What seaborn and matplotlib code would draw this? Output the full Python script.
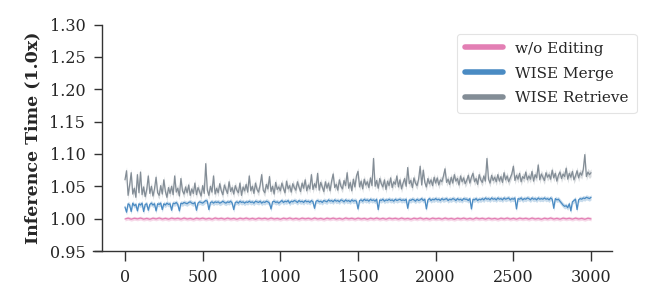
import numpy as np
import pandas as pd
import matplotlib
matplotlib.use("Agg")
import matplotlib.pyplot as plt
import seaborn as sns

# ------------------------------------------
# data
# ------------------------------------------
steps = list(range(0, 3001, 10))          # WISE curves, one value every 10 edits
steps_base = list(range(0, 3001, 20))     # w/o editing, one value every 20 edits

wise_retrieve = [
    1.060, 1.074, 1.036, 1.052, 1.071, 1.038, 1.047, 1.033, 1.068, 1.040,
    1.072, 1.037, 1.049, 1.034, 1.045, 1.066, 1.039, 1.050, 1.035, 1.046,
    1.064, 1.040, 1.036, 1.051, 1.038, 1.060, 1.042, 1.033, 1.048, 1.039,
    1.050, 1.037, 1.066, 1.041, 1.047, 1.035, 1.062, 1.043, 1.038, 1.049,
    1.040, 1.052, 1.036, 1.046, 1.039, 1.055, 1.037, 1.048, 1.042, 1.035,
    1.051, 1.039, 1.085, 1.044, 1.036, 1.050, 1.041, 1.066, 1.038, 1.047,
    1.040, 1.054, 1.043, 1.037, 1.052, 1.045, 1.039, 1.057, 1.042, 1.048,
    1.038, 1.051, 1.044, 1.040, 1.055, 1.036, 1.049, 1.043, 1.053, 1.041,
    1.066, 1.043, 1.050, 1.039, 1.055, 1.045, 1.041, 1.052, 1.068, 1.044,
    1.040, 1.053, 1.046, 1.065, 1.042, 1.050, 1.038, 1.056, 1.045, 1.049,
    1.043, 1.055, 1.047, 1.040, 1.058, 1.046, 1.051, 1.041, 1.054, 1.048,
    1.044, 1.057, 1.049, 1.042, 1.055, 1.047, 1.060, 1.043, 1.052, 1.046,
    1.068, 1.045, 1.054, 1.048, 1.070, 1.044, 1.056, 1.049, 1.042, 1.057,
    1.047, 1.055, 1.043, 1.058, 1.069, 1.048, 1.053, 1.044, 1.060, 1.050,
    1.046, 1.059, 1.051, 1.071, 1.047, 1.056, 1.043, 1.061, 1.049, 1.066,
    1.073, 1.049, 1.058, 1.046, 1.061, 1.052, 1.057, 1.048, 1.063, 1.051,
    1.093, 1.050, 1.059, 1.047, 1.062, 1.054, 1.049, 1.060, 1.045, 1.058,
    1.051, 1.063, 1.048, 1.057, 1.053, 1.066, 1.049, 1.060, 1.046, 1.055,
    1.062, 1.050, 1.079, 1.054, 1.059, 1.048, 1.063, 1.055, 1.051, 1.061,
    1.081, 1.052, 1.075, 1.056, 1.049, 1.062, 1.054, 1.060, 1.051, 1.064,
    1.055, 1.063, 1.052, 1.060, 1.057, 1.066, 1.077, 1.056, 1.061, 1.053,
    1.064, 1.055, 1.068, 1.058, 1.062, 1.052, 1.066, 1.057, 1.063, 1.054,
    1.059, 1.067, 1.055, 1.064, 1.070, 1.057, 1.062, 1.053, 1.068, 1.060,
    1.056, 1.066, 1.058, 1.093, 1.061, 1.055, 1.067, 1.059, 1.064, 1.057,
    1.068, 1.058, 1.065, 1.056, 1.071, 1.060, 1.066, 1.057, 1.063, 1.069,
    1.081, 1.059, 1.067, 1.061, 1.070, 1.057, 1.065, 1.062, 1.072, 1.060,
    1.066, 1.061, 1.073, 1.058, 1.068, 1.063, 1.083, 1.060, 1.069, 1.064,
    1.059, 1.071, 1.064, 1.068, 1.061, 1.075, 1.063, 1.070, 1.058, 1.067,
    1.072, 1.062, 1.069, 1.065, 1.078, 1.061, 1.070, 1.064, 1.073, 1.060,
    1.066, 1.074, 1.063, 1.071, 1.067, 1.076, 1.099, 1.065, 1.072, 1.068,
    1.071,
]

wise_merge = [
    1.018, 1.010, 1.023, 1.021, 1.011, 1.024, 1.020, 1.022, 1.012, 1.023,
    1.021, 1.024, 1.011, 1.022, 1.023, 1.013, 1.022, 1.024, 1.021, 1.023,
    1.012, 1.023, 1.022, 1.024, 1.014, 1.023, 1.021, 1.024, 1.022, 1.023,
    1.013, 1.024, 1.023, 1.025, 1.022, 1.012, 1.024, 1.023, 1.025, 1.024,
    1.023, 1.025, 1.026, 1.024, 1.023, 1.025, 1.013, 1.024, 1.026, 1.025,
    1.024, 1.026, 1.028, 1.027, 1.014, 1.025, 1.026, 1.024, 1.026, 1.025,
    1.026, 1.024, 1.025, 1.027, 1.025, 1.024, 1.026, 1.025, 1.027, 1.024,
    1.014, 1.025, 1.026, 1.024, 1.027, 1.025, 1.026, 1.024, 1.026, 1.025,
    1.027, 1.025, 1.026, 1.024, 1.027, 1.026, 1.025, 1.027, 1.024, 1.026,
    1.025, 1.027, 1.026, 1.024, 1.015, 1.026, 1.027, 1.025, 1.026, 1.024,
    1.026, 1.028, 1.025, 1.027, 1.026, 1.028, 1.024, 1.027, 1.026, 1.028,
    1.027, 1.025, 1.028, 1.026, 1.027, 1.025, 1.028, 1.026, 1.027, 1.025,
    1.028, 1.026, 1.016, 1.027, 1.028, 1.026, 1.027, 1.025, 1.028, 1.027,
    1.026, 1.029, 1.027, 1.028, 1.026, 1.029, 1.027, 1.028, 1.026, 1.029,
    1.028, 1.026, 1.029, 1.027, 1.028, 1.026, 1.029, 1.027, 1.028, 1.027,
    1.015, 1.028, 1.029, 1.027, 1.030, 1.028, 1.029, 1.027, 1.030, 1.028,
    1.029, 1.027, 1.030, 1.014, 1.029, 1.028, 1.030, 1.027, 1.029, 1.028,
    1.030, 1.028, 1.029, 1.027, 1.030, 1.028, 1.029, 1.030, 1.028, 1.029,
    1.028, 1.030, 1.016, 1.029, 1.028, 1.030, 1.029, 1.027, 1.030, 1.028,
    1.029, 1.031, 1.028, 1.030, 1.015, 1.029, 1.031, 1.028, 1.030, 1.029,
    1.031, 1.029, 1.030, 1.028, 1.031, 1.029, 1.030, 1.031, 1.028, 1.030,
    1.029, 1.031, 1.030, 1.028, 1.031, 1.029, 1.030, 1.028, 1.031, 1.030,
    1.030, 1.028, 1.031, 1.015, 1.030, 1.029, 1.031, 1.028, 1.030, 1.029,
    1.031, 1.029, 1.032, 1.030, 1.031, 1.029, 1.032, 1.030, 1.031, 1.029,
    1.032, 1.030, 1.031, 1.029, 1.032, 1.030, 1.031, 1.032, 1.029, 1.031,
    1.030, 1.032, 1.015, 1.031, 1.030, 1.032, 1.029, 1.031, 1.030, 1.032,
    1.031, 1.029, 1.032, 1.030, 1.031, 1.029, 1.032, 1.030, 1.031, 1.030,
    1.032, 1.030, 1.031, 1.029, 1.032, 1.030, 1.016, 1.031, 1.029, 1.030,
    1.027, 1.024, 1.021, 1.019, 1.020, 1.017, 1.023, 1.012, 1.026, 1.028,
    1.030, 1.014, 1.029, 1.031, 1.030, 1.032, 1.031, 1.033, 1.032, 1.031,
    1.033,
]

wo_editing = [
    0.9995, 1.0008, 0.9992, 1.0006, 0.9997, 1.0009, 0.9993, 1.0004, 0.9991, 1.0007,
    0.9996, 1.0010, 0.9994, 1.0005, 0.9992, 1.0008, 0.9997, 1.0006, 0.9993, 1.0009,
    0.9995, 1.0004, 0.9991, 1.0007, 0.9996, 1.0008, 0.9994, 1.0005, 0.9992, 1.0010,
    0.9997, 1.0006, 0.9993, 1.0008, 0.9995, 1.0004, 0.9991, 1.0007, 0.9996, 1.0009,
    0.9994, 1.0005, 0.9992, 1.0008, 0.9997, 1.0006, 0.9993, 1.0009, 0.9995, 1.0004,
    0.9991, 1.0007, 0.9996, 1.0010, 0.9994, 1.0005, 0.9992, 1.0008, 0.9997, 1.0006,
    0.9993, 1.0009, 0.9995, 1.0004, 0.9991, 1.0007, 0.9996, 1.0008, 0.9994, 1.0005,
    0.9992, 1.0010, 0.9997, 1.0006, 0.9993, 1.0008, 0.9995, 1.0004, 0.9991, 1.0007,
    0.9996, 1.0009, 0.9994, 1.0005, 0.9992, 1.0008, 0.9997, 1.0006, 0.9993, 1.0009,
    0.9995, 1.0004, 0.9991, 1.0007, 0.9996, 1.0010, 0.9994, 1.0005, 0.9992, 1.0008,
    0.9997, 1.0006, 0.9993, 1.0009, 0.9995, 1.0004, 0.9991, 1.0007, 0.9996, 1.0008,
    0.9994, 1.0005, 0.9992, 1.0010, 0.9997, 1.0006, 0.9993, 1.0008, 0.9995, 1.0004,
    0.9991, 1.0007, 0.9996, 1.0009, 0.9994, 1.0005, 0.9992, 1.0008, 0.9997, 1.0006,
    0.9993, 1.0009, 0.9995, 1.0004, 0.9991, 1.0007, 0.9996, 1.0010, 0.9994, 1.0005,
    0.9992, 1.0008, 0.9997, 1.0006, 0.9993, 1.0008, 0.9995, 1.0004, 0.9991, 1.0007,
    0.9996,
]

methods = ["w/o Editing", "WISE Merge", "WISE Retrieve"]
band_width = [0.003, 0.004, 0.006]   # half width of the shaded band per method
colors = ["#e37fb4", "#4a8bc3", "#838d96"]

yticks = [0.95, 1.00, 1.05, 1.10, 1.15, 1.20, 1.25, 1.30]
xticks = [0, 500, 1000, 1500, 2000, 2500, 3000]

# ------------------------------------------
# long-form table for seaborn
# ------------------------------------------
series = [(steps_base, wo_editing), (steps, wise_merge), (steps, wise_retrieve)]
df = pd.concat(
    [pd.DataFrame({"step": x, "time": y, "method": m}) for m, (x, y) in zip(methods, series)],
    ignore_index=True,
)

# ------------------------------------------
# plot
# ------------------------------------------
sns.set_style("ticks")
plt.rcParams["font.family"] = ["DejaVu Serif"]

fig = plt.figure(figsize=(6.65, 3.05), dpi=100)
ax = fig.add_axes([0.1398, 0.1770, 0.7805, 0.7426])

for (x, y), b, c in zip(series, band_width, colors):
    y = np.array(y)
    ax.fill_between(x, y - b, y + b, color=c, alpha=0.3, linewidth=0)

sns.lineplot(data=df, x="step", y="time", hue="method", palette=colors,
             hue_order=methods, linewidth=0.9, ax=ax, legend=False)

ax.set_xlim(-206, 3135)
ax.set_ylim(0.95, 1.30)
ax.set_xticks(xticks)
ax.set_yticks(yticks)
ax.set_yticklabels([f"{v:.2f}" for v in yticks])
ax.set_xlabel("")
ax.set_ylabel("Inference Time (1.0x)", fontsize=12.5, fontweight="bold", labelpad=6)

sns.despine(ax=ax)
ax.spines["left"].set_position(("axes", 0.0173))
for side in ["left", "bottom"]:
    ax.spines[side].set_color("#333333")
    ax.spines[side].set_linewidth(1.0)
ax.tick_params(axis="y", length=6, width=1, color="#333333", labelsize=11.5, pad=6)
ax.tick_params(axis="x", length=7, width=1, color="#333333", labelsize=11.5, pad=6)

handles = [plt.Line2D([], [], color=c, linewidth=4) for c in colors]
leg = ax.legend(handles, methods, loc="upper right", bbox_to_anchor=(1.062, 0.991),
                fontsize=11, frameon=True, handlelength=2.5, handletextpad=0.8,
                borderpad=0.5, labelspacing=0.7, fancybox=True)
leg.get_frame().set_edgecolor("#dddddd")
leg.get_frame().set_linewidth(0.8)

fig.savefig("out.png", dpi=100)
